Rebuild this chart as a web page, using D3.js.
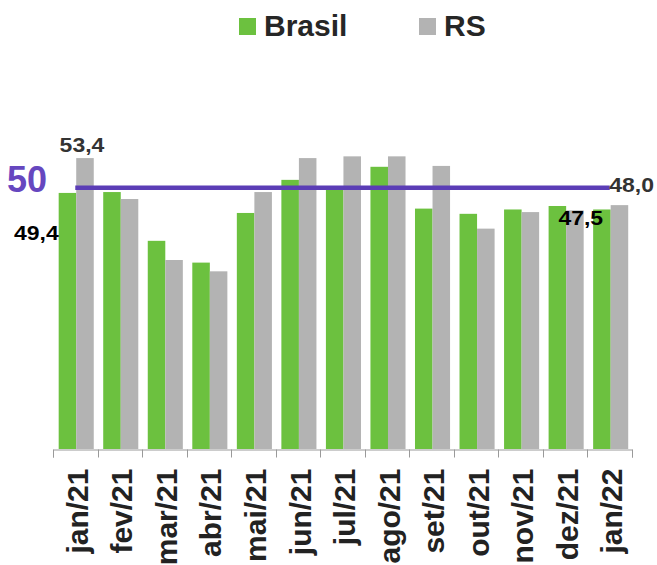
<!DOCTYPE html>
<html><head><meta charset="utf-8">
<script src="https://cdn.jsdelivr.net/npm/d3@7/dist/d3.min.js"></script>
<style>body{margin:0;background:#fff}svg{display:block}</style>
</head><body><svg id="chart" width="657" height="565"></svg>
<script>
const categories = ["jan/21","fev/21","mar/21","abr/21","mai/21","jun/21","jul/21","ago/21","set/21","out/21","nov/21","dez/21","jan/22"];
const seriesNames = ["Brasil","RS"];
const brasilValues = [49.4, 49.5, 43.9, 41.4, 47.1, 50.9, 49.8, 52.4, 47.6, 47.0, 47.5, 47.9, 47.5];
const rsValues = [53.4, 48.7, 41.7, 40.4, 49.5, 53.4, 53.6, 53.6, 52.5, 45.3, 47.2, 47.4, 48.0];
const referenceValue = 50;
const referenceLabel = "50";
const yDomain = [20, 60];
const valueLabels = [
  {series: "RS", index: 0, text: "53,4"},
  {series: "Brasil", index: 0, text: "49,4"},
  {series: "RS", index: 12, text: "48,0"},
  {series: "Brasil", index: 12, text: "47,5"}
];

const colors = {Brasil: "#6cc13f", RS: "#b3b3b3"};
const values = {Brasil: brasilValues, RS: rsValues};
const svg = d3.select("#chart");
const baseY = 449;

const x = d3.scaleBand().domain(categories).range([53, 632]).padding(0);
const x1 = d3.scaleBand().domain(seriesNames).range([0, x.bandwidth()]).paddingInner(0).paddingOuter(0.27).align(0.6);
const y = d3.scaleLinear().domain(yDomain).range([baseY, 100.6]);

// bars
const g = svg.append("g");
categories.forEach((c, i) => {
  seriesNames.forEach(s => {
    g.append("rect")
      .attr("x", x(c) + x1(s))
      .attr("y", y(values[s][i]))
      .attr("width", x1.bandwidth())
      .attr("height", y(yDomain[0]) - y(values[s][i]))
      .attr("fill", colors[s]);
  });
});

// axis
const axis = svg.append("g").attr("transform", `translate(0,${baseY + 0.5})`)
  .call(d3.axisBottom(x).tickSize(0).tickSizeOuter(8));
axis.select(".domain").attr("stroke", "#9a9a9a").attr("stroke-width", 1);
axis.selectAll(".tick line").remove();
axis.selectAll(".tick text")
  .attr("transform", "rotate(-90)")
  .attr("text-anchor", "end")
  .attr("x", -19).attr("y", 0).attr("dy", "0.42em")
  .attr("fill", "#222")
  .style("font-family", "'Liberation Sans', Arial, sans-serif")
  .style("font-weight", "bold")
  .style("font-size", "30px");
// boundary ticks
const bounds = categories.map(c => x(c)).concat([x.range()[1]]);
axis.selectAll(".btick").data(bounds).enter().append("line")
  .attr("x1", d => Math.round(d) + 0.5).attr("x2", d => Math.round(d) + 0.5)
  .attr("y1", 0).attr("y2", 8)
  .attr("stroke", "#9a9a9a").attr("stroke-width", 1);

// reference line
const cx = c => x(c) + x.bandwidth() / 2;
svg.append("line")
  .attr("x1", cx(categories[0])).attr("x2", cx(categories[categories.length - 1]))
  .attr("y1", y(referenceValue)).attr("y2", y(referenceValue))
  .attr("stroke", "#5b3db6").attr("stroke-width", 4.5);
svg.append("text")
  .attr("x", 47).attr("y", y(referenceValue) + 4)
  .attr("text-anchor", "end")
  .attr("fill", "#6647bf")
  .style("font-family", "'Liberation Sans', Arial, sans-serif")
  .style("font-weight", "bold").style("font-size", "36px")
  .text(referenceLabel);

// value labels
const labelPos = [
  {dx: () => x1.bandwidth() / 2 - 3, dy: -6, anchor: "middle", fill: "#333"},
  {dx: () => 0, dy: 47, anchor: "end", fill: "#000"},
  {dx: () => -1.5, dy: -13, anchor: "start", fill: "#333"},
  {dx: () => 10, dy: 16, anchor: "end", fill: "#000"}
];
valueLabels.forEach((l, k) => {
  const p = labelPos[k];
  const c = categories[l.index];
  const px = x(c) + x1(l.series) + p.dx();
  const py = y(values[l.series][l.index]) + p.dy;
  svg.append("text")
    .attr("transform", `translate(${px},${py}) scale(1.15,1)`)
    .attr("text-anchor", p.anchor)
    .attr("fill", p.fill)
    .style("font-family", "'Liberation Sans', Arial, sans-serif")
    .style("font-weight", "bold").style("font-size", "20px")
    .text(l.text);
});

// legend
const legendX = [239, 419];
const leg = svg.append("g");
seriesNames.forEach((s, i) => {
  leg.append("rect").attr("x", legendX[i]).attr("y", 18).attr("width", 17).attr("height", 17).attr("fill", colors[s]);
  leg.append("text").attr("x", legendX[i] + 25).attr("y", 36)
    .attr("fill", "#262626")
    .style("font-family", "'Liberation Sans', Arial, sans-serif")
    .style("font-weight", "bold").style("font-size", "30px")
    .text(s);
});
</script></body></html>
